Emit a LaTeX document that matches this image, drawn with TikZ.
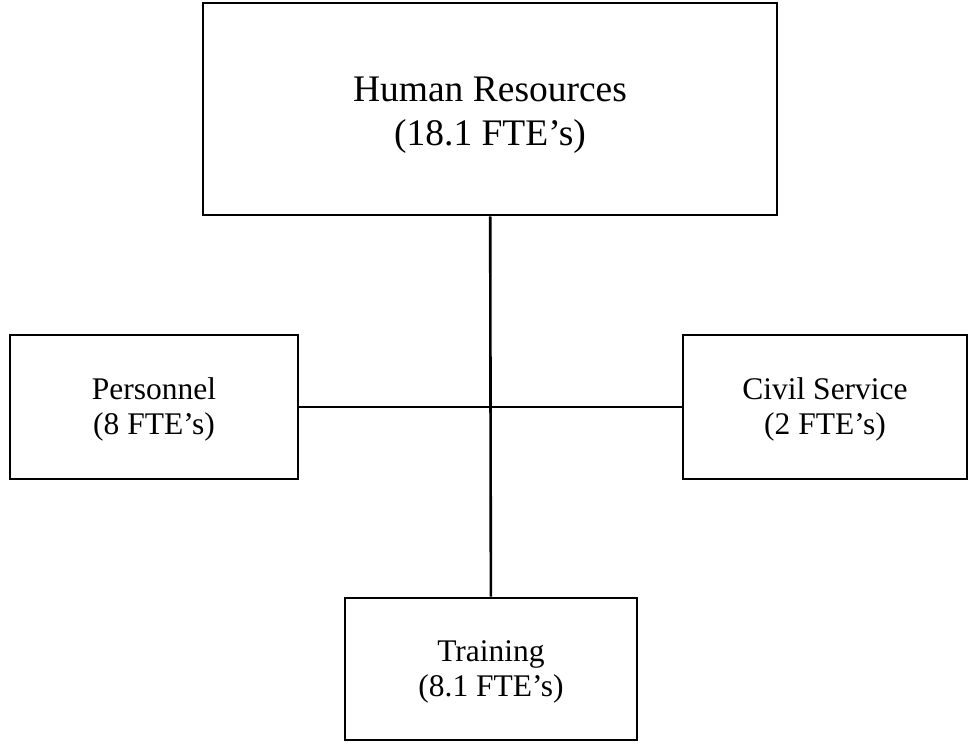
\documentclass[tikz,border=0pt]{standalone}
\usepackage{fontspec}
\setmainfont{Liberation Serif}
\usetikzlibrary{shapes}

\begin{document}
\begin{tikzpicture}[x=1pt, y=-1pt, line width=2.6pt]
\tikzstyle{unit}=[rectangle,draw=black,text=black,align=center,inner sep=0pt,
  minimum width=288pt,minimum height=144pt,font=\fontsize{31.5}{35}\selectfont]
\tikzstyle{head}=[unit,minimum width=574pt,minimum height=212pt,
  font=\fontsize{37.5}{44}\selectfont]
\useasboundingbox (0,0) rectangle (973,750);
\node[head] (HR)    at (490,109) {\rule{0pt}{36pt}Human Resources\\(18.1 FTE's)};
\node[unit] (Pers)  at (154,407) {\rule{0pt}{26pt}Personnel\\(8 FTE's)};
\node[unit, minimum width=284pt]
            (Civil) at (825,407) {\rule{0pt}{26pt}Civil Service\\(2 FTE's)};
\node[unit, minimum width=292pt, minimum height=142pt]
            (Train) at (491,669) {\rule{0pt}{26pt}Training\\(8.1 FTE's)};
\path
(HR)   edge (Train)
(Pers) edge (Civil);
\end{tikzpicture}
\end{document}
